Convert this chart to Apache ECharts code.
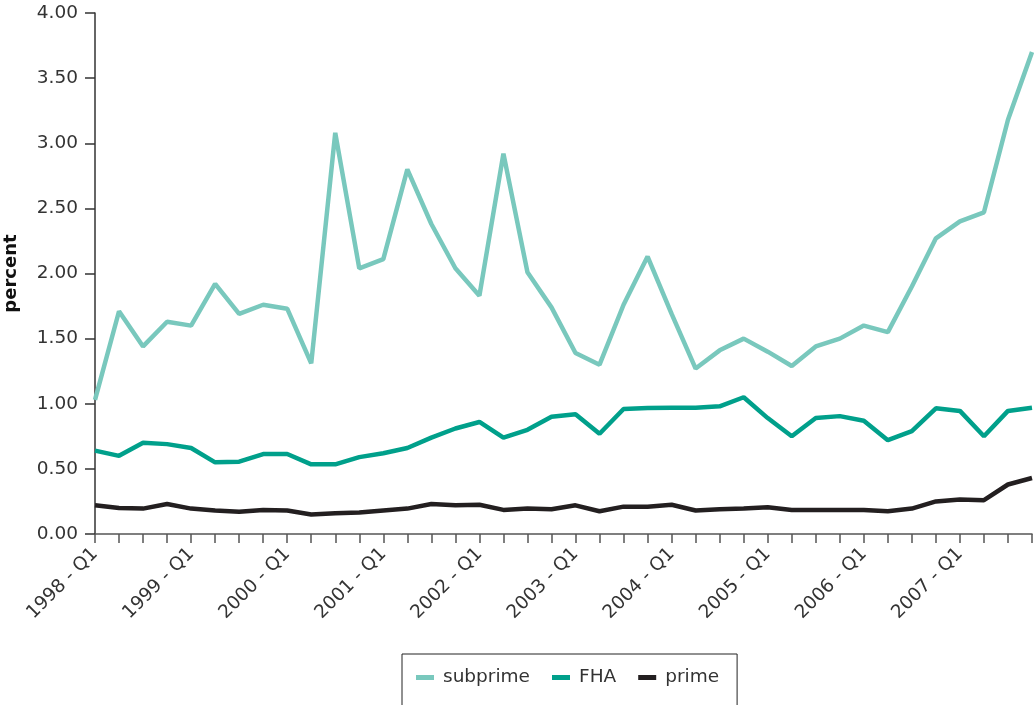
<!DOCTYPE html>
<html>
<head>
<meta charset="utf-8">
<script src="https://cdn.jsdelivr.net/npm/echarts@6/dist/echarts.min.js"></script>
<style>
html, body { margin: 0; padding: 0; background: #fff; }
#chart { width: 1034px; height: 705px; }
</style>
</head>
<body>
<div id="chart"></div>
<script>
// quarters 1998 Q1 .. 2007 Q4
const years = [1998, 1999, 2000, 2001, 2002, 2003, 2004, 2005, 2006, 2007];
const categories = [];
years.forEach(y => {
    for (let q = 1; q <= 4; q++) categories.push(y + ' - Q' + q);
});

const subprime = [1.03, 1.71, 1.44, 1.63, 1.60, 1.92, 1.69, 1.76, 1.73, 1.31,
                  3.08, 2.04, 2.11, 2.80, 2.38, 2.04, 1.83, 2.92, 2.01, 1.74,
                  1.39, 1.30, 1.76, 2.13, 1.69, 1.27, 1.41, 1.50, 1.40, 1.29,
                  1.44, 1.50, 1.60, 1.55, 1.90, 2.27, 2.40, 2.47, 3.18, 3.70];
const fha = [0.64, 0.60, 0.70, 0.69, 0.66, 0.55, 0.555, 0.614, 0.614, 0.535,
             0.535, 0.59, 0.62, 0.66, 0.74, 0.81, 0.86, 0.74, 0.80, 0.90,
             0.92, 0.77, 0.96, 0.967, 0.97, 0.97, 0.98, 1.05, 0.89, 0.75,
             0.89, 0.905, 0.87, 0.72, 0.79, 0.965, 0.945, 0.75, 0.945, 0.97];
const prime = [0.22, 0.20, 0.195, 0.23, 0.195, 0.18, 0.17, 0.185, 0.18, 0.15,
               0.16, 0.165, 0.18, 0.195, 0.23, 0.22, 0.225, 0.185, 0.195, 0.19,
               0.22, 0.175, 0.21, 0.21, 0.225, 0.18, 0.19, 0.195, 0.205, 0.185,
               0.185, 0.185, 0.185, 0.175, 0.195, 0.25, 0.265, 0.26, 0.38, 0.43];

const font = '"DejaVu Sans", sans-serif';
const chart = echarts.init(document.getElementById('chart'));

chart.setOption({
    animation: false,
    color: ['#79c8bd', '#00a08b', '#231f20'],
    textStyle: { fontFamily: font },
    legend: {
        left: 402,
        top: 654,
        padding: [14, 18, 40, 14],
        borderColor: '#222',
        borderWidth: 1,
        icon: 'rect',
        itemWidth: 18,
        itemHeight: 5,
        itemGap: 22,
        textStyle: { fontSize: 18.5, color: '#333', fontFamily: font, padding: [0, 0, 0, 4] },
        data: ['subprime', 'FHA', 'prime']
    },
    grid: {
        left: 95,
        right: 2,
        top: 13,
        bottom: 171,
        containLabel: false,
        outerBoundsMode: 'none'
    },
    xAxis: {
        type: 'category',
        boundaryGap: false,
        data: categories,
        axisLine: { lineStyle: { color: '#555', width: 1.5 } },
        axisTick: { interval: 0, length: 9, lineStyle: { color: '#555', width: 1.5 } },
        axisLabel: {
            interval: 3,
            rotate: 45,
            margin: 17,
            fontSize: 18.5,
            color: '#333',
            fontFamily: font
        },
        splitLine: { show: false }
    },
    yAxis: {
        type: 'value',
        min: 0,
        max: 4,
        interval: 0.5,
        name: 'percent',
        nameLocation: 'middle',
        nameRotate: 90,
        nameGap: 75,
        nameTextStyle: { fontSize: 18, fontWeight: 'bold', color: '#111', fontFamily: font },
        axisLine: { show: true, lineStyle: { color: '#333', width: 1.5 } },
        axisTick: { show: true, length: 10, lineStyle: { color: '#333', width: 1.5 } },
        axisLabel: {
            margin: 17,
            fontSize: 18.5,
            color: '#333',
            fontFamily: font,
            formatter: v => v.toFixed(2)
        },
        splitLine: { show: false }
    },
    series: [
        { name: 'subprime', type: 'line', data: subprime, symbol: 'none', lineStyle: { width: 4.5 } },
        { name: 'FHA', type: 'line', data: fha, symbol: 'none', lineStyle: { width: 4.5 } },
        { name: 'prime', type: 'line', data: prime, symbol: 'none', lineStyle: { width: 4.5 } }
    ]
});
</script>
</body>
</html>
